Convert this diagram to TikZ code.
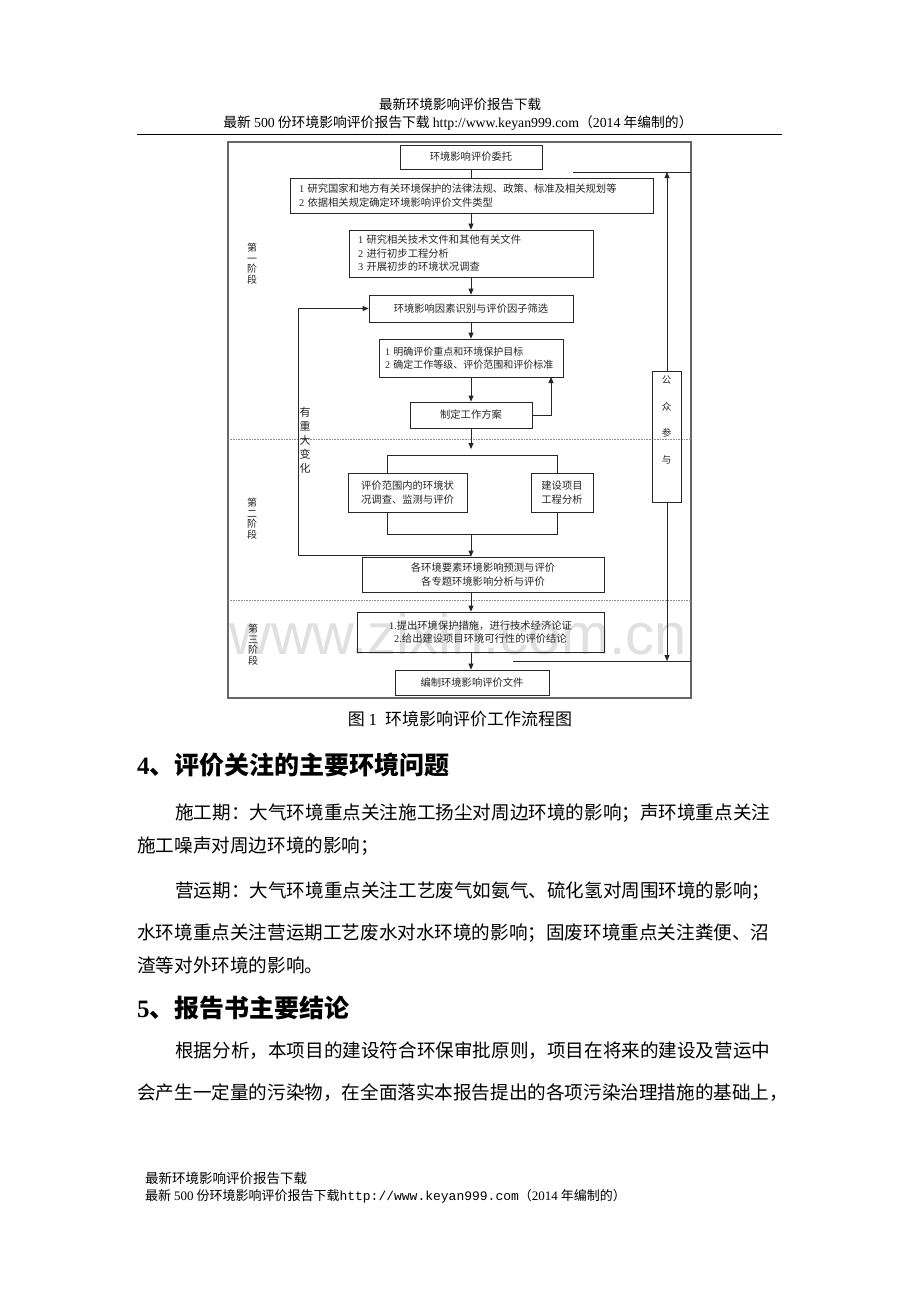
\documentclass[tikz,border=0pt]{standalone}
\usepackage{fontspec}
\setmainfont{Noto Sans CJK SC}
\newfontfamily\lat{Liberation Serif}
\newfontfamily\mono{Liberation Mono}
\newfontfamily\wm{Liberation Sans}
\usetikzlibrary{arrows.meta}
\tikzset{
  box/.style={draw=black!85, line width=0.8pt, inner sep=0pt, text=black!85, font=\fontsize{10.3}{13.5}\selectfont, align=center},
  lbox/.style={box, align=left, inner xsep=9pt},
  ln/.style={draw=black!85, line width=0.8pt},
  arr/.style={ln, -{Triangle[length=6pt,width=5pt]}},
  frame/.style={draw=black!60, line width=1.1pt},
  dots/.style={draw=black!45, line width=0.6pt, densely dotted},
  stage/.style={inner sep=0pt, align=center, text=black!85, font=\fontsize{10}{10.5}\selectfont},
  body/.style={inner sep=0pt, anchor=base west, font=\fontsize{18.6}{20}\selectfont},
  head/.style={inner sep=0pt, anchor=base west, font=\bfseries\fontsize{25}{26}\selectfont},
  hdr/.style={inner sep=0pt, font=\fontsize{13.5}{15}\selectfont},
}
\begin{document}
\begin{tikzpicture}[x=1pt,y=-1pt]
\useasboundingbox (0,0) rectangle (920,1302);
\fill[white] (0,0) rectangle (920,1302);
% watermark
\node[inner sep=0pt, text=black!12, font=\wm\fontsize{58}{60}\selectfont] (wmk) at (458,634) {www.zixin.com.cn};
% page header
\node[hdr] (hd1) at (460,104) {最新环境影响评价报告下载};
\node[hdr, font=\fontsize{13.8}{15}\selectfont] (hd2) at (458,123) {最新 {\lat 500} 份环境影响评价报告下载 {\lat http://www.keyan999.com}（{\lat 2014} 年编制的）};
\coordinate (hl1) at (137,134);
\coordinate (hl2) at (782,134);
\draw[line width=0.9pt] (hl1) -- (hl2);
% diagram frame
\draw[frame] (228,142) rectangle (691,698);
\draw[dots] (228,439) -- (691,439);
\draw[dots] (228,600) -- (691,600);
% boxes
\node[box, minimum width=142, minimum height=24] (A) at (471,157) {环境影响评价委托};
\node[lbox, text width=345, minimum height=35] (B) at (471.5,195.5) {{\lat 1} 研究国家和地方有关环境保护的法律法规、政策、标准及相关规划等\\{\lat 2} 依据相关规定确定环境影响评价文件类型};
\node[lbox, text width=226, minimum height=47] (C) at (471,253.5) {{\lat 1} 研究相关技术文件和其他有关文件\\{\lat 2} 进行初步工程分析\\{\lat 3} 开展初步的环境状况调查};
\node[box, minimum width=204, minimum height=27] (D) at (471,308.5) {环境影响因素识别与评价因子筛选};
\node[lbox, inner xsep=6pt, text width=172, minimum height=38, font=\fontsize{10}{13.5}\selectfont] (E) at (471,358) {{\lat 1} 明确评价重点和环境保护目标\\{\lat 2} 确定工作等级、评价范围和评价标准};
\node[box, minimum width=122, minimum height=26] (F) at (471,415) {制定工作方案};
\node[box, minimum width=119, minimum height=39] (H1) at (407.5,492.5) {评价范围内的环境状\\况调查、监测与评价};
\node[box, minimum width=62, minimum height=39] (H2) at (562,492.5) {建设项目\\工程分析};
\node[box, minimum width=242, minimum height=35] (G) at (483,574.5) {各环境要素环境影响预测与评价\\各专题环境影响分析与评价};
\node[box, minimum width=247, minimum height=40] (I) at (480.5,632) {{\lat 1.}提出环境保护措施，进行技术经济论证\\{\lat 2.}给出建设项目环境可行性的评价结论};
\node[box, minimum width=154, minimum height=25] (J) at (472,682.5) {编制环境影响评价文件};
\node[box, minimum width=29, minimum height=131] (P) at (666.5,436.5) {};
\node[stage, anchor=north, font=\fontsize{9.5}{26.5}\selectfont] (Pt) at ([yshift=-5pt]P.north) {公\\众\\参\\与};
% stage labels
\node[stage] (S1) at (252,263.5) {第\\一\\阶\\段};
\node[stage] (S2) at (252,518.5) {第\\二\\阶\\段};
\node[stage] (S3) at (253,644.5) {第\\三\\阶\\段};
\node[stage, font=\fontsize{11}{14}\selectfont] (Lt) at (305,440) {有\\重\\大\\变\\化};
% connectors
\draw[ln] (A.south) -- (A.south |- B.north);
\draw[arr] (B.south -| A.south) -- (C.north -| A.south);
\draw[arr] (C.south) -- (D.north);
\draw[arr] (D.south) -- (E.north);
\draw[arr] (E.south) -- (F.north);
\coordinate (Ek) at (551,377);
\draw[arr] (F.east) -| (Ek);
\coordinate (bt) at (471,455);
\coordinate (btl) at (387,455);
\coordinate (btr) at (557,455);
\draw[arr, shorten >=6pt] (F.south) -- (bt);
\draw[ln] (btl |- H1.north) -- (btl) -- (btr) -- (btr |- H2.north);
\coordinate (bb) at (471,534);
\coordinate (bbl) at (387,534);
\coordinate (bbr) at (557,534);
\draw[ln] (bbl |- H1.south) -- (bbl) -- (bbr) -- (bbr |- H2.south);
\draw[arr] (bb) -- (bb |- G.north);
\coordinate (lp) at (471,555);
\coordinate (lc) at (298,555);
\draw[arr] (lp) -- (lc) |- (D.west);
\draw[arr] (G.south -| bb) -- (I.north -| bb);
\draw[arr] (I.south -| bb) -- (J.north -| bb);
\coordinate (rt) at (667,172);
\coordinate (rtl) at (573,172);
\coordinate (rtr) at (691,172);
\draw[ln] (rtl) -- (rtr);
\draw[arr] (P.north -| rt) -- (rt);
\coordinate (rb) at (667,661);
\coordinate (rbl) at (513,661);
\coordinate (rbr) at (691,661);
\draw[ln] (rbl) -- (rbr);
\draw[arr] (P.south -| rb) -- (rb);
% caption
\node[inner sep=0pt, font=\fontsize{17}{19}\selectfont] (cap) at (460,719) {图 {\lat 1}\hspace{8pt}环境影响评价工作流程图};
% body text
\node[head] (h4) at (137,774) {{\lat\bfseries 4}、评价关注的主要环境问题};
\node[body] (p1) at (175,819) {施工期：大气环境重点关注施工扬尘对周边环境的影响；声环境重点关注};
\node[body] (p2) at (137,852) {施工噪声对周边环境的影响；};
\node[body] (p3) at (175,897) {营运期：大气环境重点关注工艺废气如氨气、硫化氢对周围环境的影响；};
\node[body] (p4) at (137,939) {水环境重点关注营运期工艺废水对水环境的影响；固废环境重点关注粪便、沼};
\node[body] (p5) at (137,972) {渣等对外环境的影响。};
\node[head] (h5) at (137,1017) {{\lat\bfseries 5}、报告书主要结论};
\node[body] (p6) at (175,1057) {根据分析，本项目的建设符合环保审批原则，项目在将来的建设及营运中};
\node[body] (p7) at (137,1099) {会产生一定量的污染物，在全面落实本报告提出的各项污染治理措施的基础上，};
% page footer
\node[hdr, anchor=west] (ft1) at (145,1178) {最新环境影响评价报告下载};
\node[hdr, anchor=west, font=\fontsize{13}{15}\selectfont] (ft2) at (145,1196) {最新 {\lat 500} 份环境影响评价报告下载{\mono http://www.keyan999.com}（{\lat 2014} 年编制的）};
\end{tikzpicture}
\end{document}
